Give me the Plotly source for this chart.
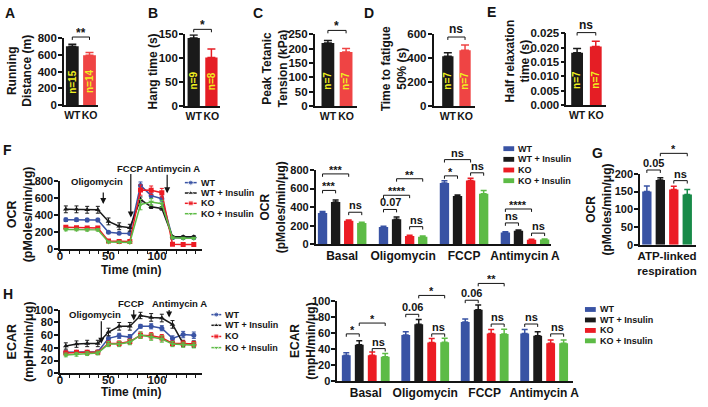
import plotly.graph_objects as go

W, H = 708, 407
FONT = "Liberation Sans, Arial, Helvetica, sans-serif"
INK = "#141414"

# ---------------- data ----------------
top_groups = ["WT", "KO"]
running_distance = [702, 593]
running_distance_err = [25, 35]
running_n = ["n=15", "n=14"]
hang_time = [142, 101]
hang_time_err = [6, 18]
hang_n = ["n=9", "n=8"]
peak_tension = [219, 188]
peak_tension_err = [9, 12]
tension_n = ["n=7", "n=7"]
fatigue_time = [415, 465]
fatigue_time_err = [30, 45]
fatigue_n = ["n=7", "n=7"]
half_relax = [0.0182, 0.0204]
half_relax_err = [0.0015, 0.0018]
relax_n = ["n=7", "n=7"]

series_names = ["WT", "WT + Insulin", "KO", "KO + Insulin"]
time_min = [6, 17, 28, 39, 50, 61, 72, 83, 94, 105, 116, 127, 138]

ocr_wt = [343, 343, 340, 340, 198, 185, 183, 745, 625, 590, 133, 133, 133]
ocr_wt_ins = [465, 465, 460, 460, 324, 267, 250, 580, 495, 476, 145, 145, 145]
ocr_ko = [255, 250, 248, 248, 95, 88, 88, 690, 688, 660, 57, 55, 55]
ocr_ko_ins = [229, 229, 225, 225, 84, 84, 78, 520, 550, 530, 133, 128, 128]
ocr_wt_err = [20, 20, 20, 20, 10, 10, 10, 40, 30, 30, 10, 10, 10]
ocr_wt_ins_err = [40, 40, 40, 40, 40, 40, 40, 30, 20, 20, 10, 10, 10]
ocr_ko_err = [15, 15, 15, 15, 10, 10, 10, 60, 50, 50, 5, 5, 5]
ocr_ko_ins_err = [15, 15, 15, 15, 10, 10, 10, 60, 40, 40, 10, 10, 10]

ecar_wt = [33, 33, 33, 34, 55, 59, 57, 74, 74, 71, 55, 61, 60]
ecar_wt_ins = [43, 46, 47, 47, 65, 74, 74, 91, 88, 87, 77, 47, 46]
ecar_ko = [32, 33, 33, 33, 47, 47, 50, 60, 59, 56, 47, 47, 46]
ecar_ko_ins = [29, 30, 31, 32, 46, 46, 49, 60, 57, 54, 46, 45, 44]
ecar_wt_err = [2, 2, 2, 2, 4, 4, 4, 3, 4, 4, 4, 5, 5]
ecar_wt_ins_err = [5, 5, 5, 5, 6, 6, 6, 5, 6, 6, 6, 5, 5]
ecar_ko_err = [3, 3, 3, 3, 4, 4, 4, 5, 5, 5, 4, 4, 4]
ecar_ko_ins_err = [3, 3, 3, 3, 4, 4, 4, 5, 5, 5, 4, 4, 4]

phases = ["Basal", "Oligomycin", "FCCP", "Antimycin A"]
ocr_bar_wt = [337, 185, 660, 128]
ocr_bar_wt_ins = [455, 270, 520, 146]
ocr_bar_ko = [253, 90, 688, 48]
ocr_bar_ko_ins = [228, 82, 543, 52]
ocr_bar_wt_err = [15, 8, 25, 6]
ocr_bar_wt_ins_err = [22, 25, 12, 8]
ocr_bar_ko_err = [8, 8, 22, 5]
ocr_bar_ko_ins_err = [8, 6, 35, 5]

atp_category = ["ATP-linked<br>respiration"]
atp_linked = [150, 183, 156, 142]
atp_linked_err = [16, 6, 9, 14]

ecar_bar_wt = [32.4, 57.5, 73.7, 59.5]
ecar_bar_wt_ins = [45.3, 70.9, 89.0, 56.7]
ecar_bar_ko = [32.4, 48.2, 59.5, 47.4]
ecar_bar_ko_ins = [30.4, 48.6, 58.7, 47.4]
ecar_bar_wt_err = [3, 4, 4, 5]
ecar_bar_wt_ins_err = [5, 6, 6, 5]
ecar_bar_ko_err = [4, 5, 5, 4]
ecar_bar_ko_ins_err = [4, 5, 6, 4]

# significance brackets: (panel, (group, series), (group, series), level, label)
brackets = [
    ("A", (0, None), (1, None), 812, "**"),
    ("B", (0, None), (1, None), 160, "*"),
    ("C", (0, None), (1, None), 263, "*"),
    ("D", (0, None), (1, None), 576, "ns"),
    ("E", (0, None), (1, None), 0.0252, "ns"),
    ("Fb", (0, 0), (0, 2), 758, "***"),
    ("Fb", (0, 0), (0, 1), 580, "***"),
    ("Fb", (0, 2), (0, 3), 345, "ns"),
    ("Fb", (1, 0), (1, 1), 375, "0.07"),
    ("Fb", (1, 0), (1, 2), 528, "****"),
    ("Fb", (1, 1), (1, 3), 706, "**"),
    ("Fb", (1, 2), (1, 3), 190, "ns"),
    ("Fb", (2, 0), (2, 2), 912, "ns"),
    ("Fb", (2, 0), (2, 1), 737, "*"),
    ("Fb", (2, 2), (2, 3), 770, "ns"),
    ("Fb", (3, 0), (3, 2), 380, "****"),
    ("Fb", (3, 0), (3, 1), 230, "ns"),
    ("Fb", (3, 2), (3, 3), 120, "ns"),
    ("G", (0, 0), (0, 1), 211, "0.05"),
    ("G", (0, 1), (0, 3), 258, "*"),
    ("G", (0, 2), (0, 3), 181, "ns"),
    ("Hb", (0, 0), (0, 1), 59, "*"),
    ("Hb", (0, 1), (0, 3), 72.5, "*"),
    ("Hb", (0, 2), (0, 3), 40.6, "ns"),
    ("Hb", (1, 0), (1, 1), 83.4, "0.06"),
    ("Hb", (1, 1), (1, 3), 107, "*"),
    ("Hb", (1, 2), (1, 3), 59, "ns"),
    ("Hb", (2, 0), (2, 1), 101, "0.06"),
    ("Hb", (2, 1), (2, 3), 122, "**"),
    ("Hb", (2, 2), (2, 3), 71.3, "ns"),
    ("Hb", (3, 0), (3, 1), 71.3, "ns"),
    ("Hb", (3, 2), (3, 3), 59, "ns"),
]

# ---------------- styling ----------------
BLUE = "#3953a4"
BLACK = "#1a1a1a"
RED = "#ec1c24"
LGREEN = "#5dbb46"
DGREEN = "#178a48"
YELLOW = "#f0f020"
series_colors = [BLUE, BLACK, RED, LGREEN]
g_colors = [BLUE, BLACK, RED, DGREEN]
series_symbols = ["circle", "triangle-up", "square", "triangle-down"]


def cat_range(x0, x1, c0, sp):
    return [(x0 - c0) / sp, (x1 - c0) / sp]


# panel geometry in pixels
P = {
    "A": dict(n=1, x0=62, x1=97, yt=33, yb=102, c0=70.5, sp=17.5, bw=13, yr=[0, 800], dt=200),
    "B": dict(n=2, x0=185, x1=221, yt=29, yb=103, c0=194, sp=18, bw=12.5, yr=[0, 150], dt=50),
    "C": dict(n=3, x0=317, x1=360, yt=29, yb=103, c0=330.5, sp=18.5, bw=13, yr=[0, 250], dt=50),
    "D": dict(n=4, x0=438, x1=480, yt=29, yb=103, c0=452.5, sp=17.5, bw=11.5, yr=[0, 600], dt=200),
    "E": dict(n=5, x0=573, x1=613, yt=28, yb=102, c0=584, sp=19, bw=12, yr=[0, 0.025], dt=0.005),
    "Fl": dict(n=6, x0=58, x1=202, yt=180, yb=250.5, xr=[0, 146], yr=[0, 800], dt=200),
    "Fb": dict(n=7, x0=318, x1=557, yt=169, yb=245.5, c0=345, sp=62, bw=9.5, slot=13.3, yr=[0, 800], dt=200),
    "G": dict(n=8, x0=648, x1=705, yt=173, yb=246, c0=675.5, sp=57, bw=9.5, slot=13.7, yr=[0, 200], dt=50),
    "Hl": dict(n=9, x0=58, x1=202, yt=313, yb=378.5, xr=[0, 146], yr=[0, 100], dt=20),
    "Hb": dict(n=10, x0=340, x1=580, yt=304, yb=386.5, c0=369, sp=60.5, bw=9, slot=13.2, yr=[0, 100], dt=20),
}
for p in P.values():
    if "c0" in p:
        p["xr"] = cat_range(p["x0"], p["x1"], p["c0"], p["sp"])


def ids(p):
    s = "" if p["n"] == 1 else str(p["n"])
    return "x" + s, "y" + s


def px_x(p, v):
    return p["x0"] + (v - p["xr"][0]) / (p["xr"][1] - p["xr"][0]) * (p["x1"] - p["x0"])


def px_y(p, v):
    return p["yb"] - (v - p["yr"][0]) / (p["yr"][1] - p["yr"][0]) * (p["yb"] - p["yt"])


def X(px):
    return px / W


def Y(py):
    return 1 - py / H


def fnt(size, color=INK):
    return dict(family=FONT, size=size, color=color, weight="bold")


fig = go.Figure()
annotations = []
shapes = []
layout_axes = {}

axis_common = dict(showline=True, linecolor=INK, linewidth=1.5, showgrid=False, zeroline=False,
                   fixedrange=True, tickcolor=INK)

for key, p in P.items():
    xs, ys = ids(p)
    xname = "xaxis" + xs[1:]
    yname = "yaxis" + ys[1:]
    is_line = key in ("Fl", "Hl")
    top = key in ("A", "B", "C", "D", "E")
    xa = dict(axis_common, domain=[X(p["x0"]), X(p["x1"])], anchor=ys, range=p["xr"], tickangle=0)
    if is_line:
        xa.update(type="linear", tickvals=[0, 50, 100], ticks="outside", ticklen=3, tickwidth=1.5,
                  ticklabelstandoff=-8, tickfont=fnt(11.5),
                  minor=dict(dtick=10, tick0=0, ticks="outside", ticklen=3,
                             tickwidth=1, tickcolor=INK))
    elif key == "G":
        xa.update(type="category", ticks="", tickfont=fnt(11.5))
    else:
        xa.update(type="category", ticks="", tickfont=fnt(10.5 if top else 12))
    ya = dict(axis_common, domain=[Y(p["yb"]), Y(p["yt"])], anchor=xs, range=p["yr"],
              tickmode="linear", tick0=0, dtick=p["dt"], ticks="outside", ticklen=4, tickwidth=1.5,
              ticklabelstandoff=-1, tickfont=fnt(11.5 if top else 11))
    if key == "E":
        ya["tickformat"] = ".3f"
    layout_axes[xname] = xa
    layout_axes[yname] = ya

# ---------------- top row bars ----------------
top_panels = [
    ("A", running_distance, running_distance_err, running_n, "#ef4444"),
    ("B", hang_time, hang_time_err, hang_n, "#e51e25"),
    ("C", peak_tension, peak_tension_err, tension_n, "#ef4444"),
    ("D", fatigue_time, fatigue_time_err, fatigue_n, "#ef4444"),
    ("E", half_relax, half_relax_err, relax_n, "#e51e25"),
]
for key, vals, errs, ns, kocol in top_panels:
    p = P[key]
    xs, ys = ids(p)
    for i, g in enumerate(top_groups):
        col = BLACK if i == 0 else kocol
        fig.add_trace(go.Bar(
            x=[g], y=[vals[i]], width=p["bw"] / p["sp"], xaxis=xs, yaxis=ys,
            marker=dict(color=col, line=dict(width=0)), showlegend=False,
            error_y=dict(type="data", array=[errs[i]], arrayminus=[0], symmetric=False,
                         color=col, thickness=1.5, width=4)))
        annotations.append(dict(xref=xs, yref=ys, x=g, y=0.35 * p["yr"][1], text=ns[i],
                                textangle=-90, showarrow=False, font=fnt(10, YELLOW)))


# ---------------- grouped bars ----------------
def grouped(key, cats, vals_list, errs_list, colors):
    p = P[key]
    xs, ys = ids(p)
    slot = p["slot"] / p["sp"]
    w = p["bw"] / p["sp"]
    for s, (vals, errs) in enumerate(zip(vals_list, errs_list)):
        fig.add_trace(go.Bar(
            x=cats, y=vals, width=w, offset=(s - 1.5) * slot - w / 2, xaxis=xs, yaxis=ys,
            marker=dict(color=colors[s], line=dict(width=0)), showlegend=False,
            error_y=dict(type="data", array=errs, arrayminus=[0] * len(errs), symmetric=False,
                         color=colors[s], thickness=1.5, width=3)))


grouped("Fb", phases, [ocr_bar_wt, ocr_bar_wt_ins, ocr_bar_ko, ocr_bar_ko_ins],
        [ocr_bar_wt_err, ocr_bar_wt_ins_err, ocr_bar_ko_err, ocr_bar_ko_ins_err], series_colors)
grouped("Hb", phases, [ecar_bar_wt, ecar_bar_wt_ins, ecar_bar_ko, ecar_bar_ko_ins],
        [ecar_bar_wt_err, ecar_bar_wt_ins_err, ecar_bar_ko_err, ecar_bar_ko_ins_err], series_colors)
grouped("G", atp_category, [[v] for v in atp_linked], [[e] for e in atp_linked_err], g_colors)


# ---------------- line charts ----------------
def lines(key, ys_list, errs_list):
    p = P[key]
    xs, ys = ids(p)
    for s, (vals, errs) in enumerate(zip(ys_list, errs_list)):
        fig.add_trace(go.Scatter(
            x=time_min, y=vals, mode="lines+markers", xaxis=xs, yaxis=ys, showlegend=False,
            line=dict(color=series_colors[s], width=1.5),
            marker=dict(symbol=series_symbols[s], size=5, color=series_colors[s]),
            error_y=dict(type="data", array=errs, color=series_colors[s], thickness=1, width=2)))


lines("Fl", [ocr_wt, ocr_wt_ins, ocr_ko, ocr_ko_ins],
      [ocr_wt_err, ocr_wt_ins_err, ocr_ko_err, ocr_ko_ins_err])
lines("Hl", [ecar_wt, ecar_wt_ins, ecar_ko, ecar_ko_ins],
      [ecar_wt_err, ecar_wt_ins_err, ecar_ko_err, ecar_ko_ins_err])


# ---------------- brackets ----------------
def bar_x(p, group, series):
    if series is None:
        return group
    return group + (series - 1.5) * p["slot"] / p["sp"]


for key, a, b, level, label in brackets:
    p = P[key]
    x1 = px_x(p, bar_x(p, *a))
    x2 = px_x(p, bar_x(p, *b))
    y = px_y(p, level)
    leg = 3
    shapes.append(dict(type="path", xref="paper", yref="paper",
                       path=f"M {X(x1)},{Y(y + leg)} L {X(x1)},{Y(y)} L {X(x2)},{Y(y)} L {X(x2)},{Y(y + leg)}",
                       line=dict(color=INK, width=1)))
    star = label.startswith("*")
    size = 12 if key in ("A", "B", "C", "D", "E") else 11
    ann = dict(xref="paper", yref="paper", x=X((x1 + x2) / 2), y=Y(y), text=label,
               showarrow=False, xanchor="center", yanchor="bottom", font=fnt(size))
    if star:
        # asterisks sit in the top of the line box: use a short box so it hugs the bracket
        ann.update(height=int(size * 0.75), valign="top", yshift=0)
    else:
        ann.update(yshift=-1)
    annotations.append(ann)

# ---------------- manual legends ----------------
layout_axes["xaxis11"] = dict(domain=[0, 1], range=[0, W], visible=False, fixedrange=True, anchor="y11")
layout_axes["yaxis11"] = dict(domain=[0, 1], range=[H, 0], visible=False, fixedrange=True, anchor="x11")


def line_legend(sx0, sx1, tx, rows):
    for s, name in enumerate(series_names):
        fig.add_trace(go.Scatter(
            x=[sx0, (sx0 + sx1) / 2, sx1], y=[rows[s]] * 3, mode="lines+markers",
            xaxis="x11", yaxis="y11", showlegend=False, hoverinfo="skip",
            line=dict(color=series_colors[s], width=1.5),
            marker=dict(symbol=series_symbols[s], size=[0, 5, 0], color=series_colors[s])))
        annotations.append(dict(xref="paper", yref="paper", x=X(tx), y=Y(rows[s]), text=name,
                                showarrow=False, xanchor="left", yanchor="middle", font=fnt(9)))


def bar_legend(sx0, sx1, tx, rows):
    for s, name in enumerate(series_names):
        shapes.append(dict(type="rect", xref="paper", yref="paper", x0=X(sx0), x1=X(sx1),
                           y0=Y(rows[s] + 2.5), y1=Y(rows[s] - 2.5),
                           fillcolor=series_colors[s], line=dict(width=0)))
        annotations.append(dict(xref="paper", yref="paper", x=X(tx), y=Y(rows[s]), text=name,
                                showarrow=False, xanchor="left", yanchor="middle", font=fnt(9)))


line_legend(185, 197, 199, [182, 192.7, 203.3, 214])
line_legend(212, 222, 224, [318, 329, 340.5, 352])
bar_legend(509, 520, 522, [147, 158, 169, 180])
bar_legend(592, 603, 605, [312.7, 323.5, 334.3, 345])

# ---------------- text: letters, titles, treatments ----------------
letters = [("A", 7.5, 7), ("B", 153, 7), ("C", 259.5, 7.5), ("D", 372.5, 7.5), ("E", 497, 6),
           ("F", 4.5, 148), ("G", 605, 151), ("H", 5, 296.5)]
for t, x, y in letters:
    annotations.append(dict(xref="paper", yref="paper", x=X(x), y=Y(y), text=t, showarrow=False,
                            xanchor="center", yanchor="middle", font=fnt(14)))

ytitles = [
    ("Running<br>Distance (m)", 17, 67, 12),
    ("Hang time (s)", 153, 67, 12),
    ("Peak Tetanic<br>Tension (kPa)", 277, 64, 12),
    ("Time to fatigue<br>50% (s)", 398, 65, 12),
    ("Half relaxation<br>time (s)", 524, 57, 12),
    ("OCR<br>(pMoles/min/μg)", 17, 215, 12.5),
    ("OCR<br>(pMoles/min/μg)", 275, 207, 12),
    ("OCR<br>(pMoles/min/μg)", 606, 210, 12),
    ("ECAR<br>(mpH/min/μg)", 17.5, 346, 12.5),
    ("ECAR<br>(mpH/min/μg)", 305, 345, 12),
]
for t, x, y, s in ytitles:
    annotations.append(dict(xref="paper", yref="paper", x=X(x), y=Y(y), text=t, showarrow=False,
                            textangle=-90, xanchor="center", yanchor="middle", font=fnt(s)))

for y in (272, 398):
    annotations.append(dict(xref="paper", yref="paper", x=X(130), y=Y(y), text="Time (min)",
                            showarrow=False, xanchor="center", yanchor="middle", font=fnt(12)))

# treatment labels and arrows (pixel positions)
treat_text = [("Oligomycin", 96, 181), ("FCCP Antimycin A", 158.5, 167),
              ("Oligomycin", 94, 318), ("FCCP", 131, 306.5), ("Antimycin A", 180, 306.5)]
for t, x, y in treat_text:
    annotations.append(dict(xref="paper", yref="paper", x=X(x), y=Y(y), text=t, showarrow=False,
                            xanchor="center", yanchor="middle", font=fnt(9.5)))
treat_arrows = [(102, 191, 204), (130, 173, 218), (167, 173, 193),
                (100, 324, 348), (133, 312, 324), (169, 312, 321)]
for x, y0, y1 in treat_arrows:
    annotations.append(dict(xref="paper", yref="paper", x=X(x), y=Y(y1), text="",
                            showarrow=True, ax=0, ay=-(y1 - y0), arrowhead=2, arrowsize=1,
                            arrowwidth=1.2, arrowcolor=INK))

fig.update_layout(
    width=W, height=H, autosize=False, margin=dict(l=0, r=0, t=0, b=0),
    paper_bgcolor="white", plot_bgcolor="rgba(0,0,0,0)", barmode="overlay", showlegend=False,
    font=dict(family=FONT, size=11, color=INK, weight="bold"),
    annotations=annotations, shapes=shapes, **layout_axes)

fig.write_html("out.html", config={"displayModeBar": False},
               post_script="document.body.style.margin='0px';")
